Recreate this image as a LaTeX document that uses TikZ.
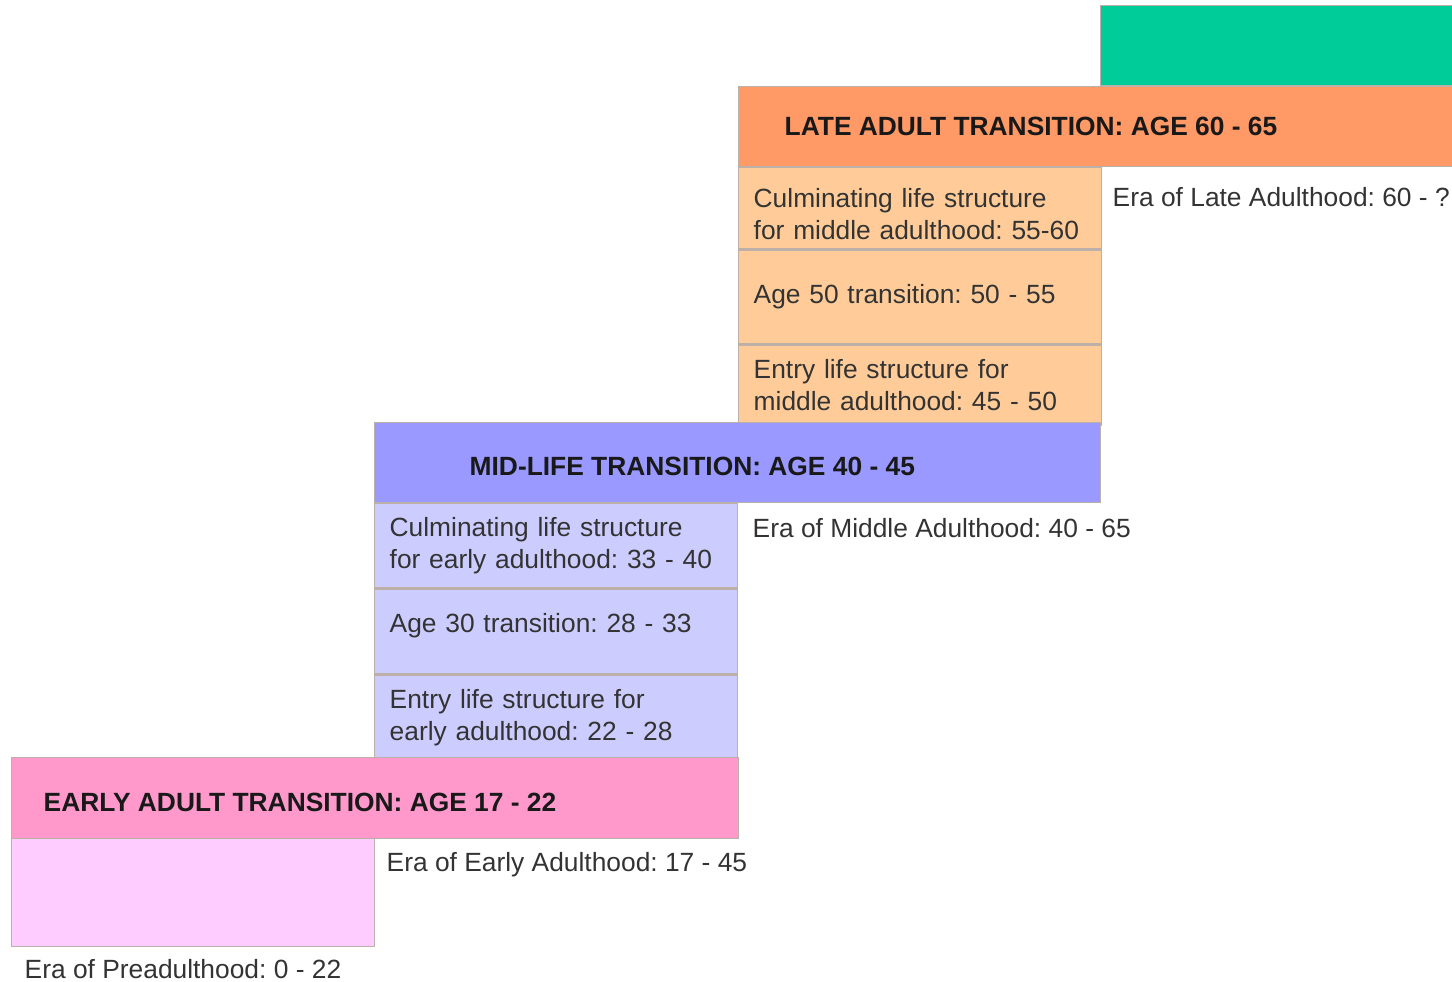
\documentclass[tikz,border=0pt]{standalone}
\usepackage{fontspec}
\setmainfont{Liberation Sans}
\frenchspacing
\usetikzlibrary{positioning}
\definecolor{verde}{HTML}{00CC99}
\definecolor{naranja}{HTML}{FF9966}
\definecolor{naranjaclaro}{HTML}{FFCC99}
\definecolor{azul}{HTML}{9999FF}
\definecolor{azulclaro}{HTML}{CCCCFF}
\definecolor{rosa}{HTML}{FF99CC}
\definecolor{rosaclaro}{HTML}{FFCCFF}
\definecolor{texto}{HTML}{333333}
\definecolor{borde}{HTML}{BCB0A8}

\begin{document}
\begin{tikzpicture}[caja/.style={draw=borde,line width=.4pt,anchor=north west,inner sep=0pt},
  celda/.style={caja,minimum height=#1,text width=3.33cm,inner xsep=.15cm,align=left,text=texto,font=\fontsize{7.5}{9.1}\selectfont},
  titulo/.style={inner sep=0pt,anchor=west,text=black!90,font=\fontsize{7.5}{9}\selectfont\bfseries},
  era/.style={inner sep=0pt,anchor=base west,text=texto,font=\fontsize{7.5}{9}\selectfont}]
  \useasboundingbox (0,0) rectangle (14.52,-9.81);

  % Edad adulta tardía
  \node[caja,fill=verde,minimum width=3.52cm,minimum height=.80cm] (n0) at (11.00,-.05) {};
  \node[caja,fill=naranja,minimum width=7.14cm,minimum height=.80cm] (n1) at (7.38,-.86) {};
  \node[titulo,right=.46cm of n1.west] (t1) {LATE ADULT TRANSITION: AGE 60 - 65};

  % Edad adulta media
  \node[celda=.81cm,fill=naranjaclaro] (c1) at (7.38,-1.67) {\rule{0pt}{.3cm}Culminating life structure\\for middle adulthood: 55-60};
  \node[celda=.94cm,fill=naranjaclaro] (c2) at (c1.south west) {Age 50 transition: 50 - 55};
  \node[celda=.80cm,fill=naranjaclaro] (c3) at (c2.south west) {Entry life structure for\\middle adulthood: 45 - 50};
  \node[caja,fill=azul,minimum width=7.26cm,minimum height=.80cm] (n2) at (3.74,-4.22) {};
  \node[titulo,right=.95cm of n2.west,yshift=-.04cm] (t2) {MID-LIFE TRANSITION: AGE 40 - 45};

  % Edad adulta temprana
  \node[celda=.84cm,fill=azulclaro] (c4) at (3.74,-5.03) {Culminating life structure\\for early adulthood: 33 - 40};
  \node[celda=.85cm,fill=azulclaro] (c5) at (c4.south west) {Age 30 transition: 28 - 33\rule[-.17cm]{0pt}{0pt}};
  \node[celda=.85cm,fill=azulclaro] (c6) at (c5.south west) {Entry life structure for\\early adulthood: 22 - 28};
  \node[caja,fill=rosa,minimum width=7.27cm,minimum height=.81cm] (n3) at (0.11,-7.57) {};
  \node[titulo,right=.32cm of n3.west,yshift=-.04cm] (t3) {EARLY ADULT TRANSITION: AGE 17 - 22};

  % Preadultez
  \node[caja,fill=rosaclaro,minimum width=3.63cm,minimum height=1.08cm] (n4) at (0.11,-8.38) {};

  % Eras
  \node[era] (e1) at (11.12,-2.065) {Era of Late Adulthood: 60 - ?};
  \node[era] (e2) at (7.52,-5.375) {Era of Middle Adulthood: 40 - 65};
  \node[era] (e3) at (3.86,-8.715) {Era of Early Adulthood: 17 - 45};
  \node[era] (e4) at (0.24,-9.785) {Era of Preadulthood: 0 - 22};
\end{tikzpicture}
\end{document}
